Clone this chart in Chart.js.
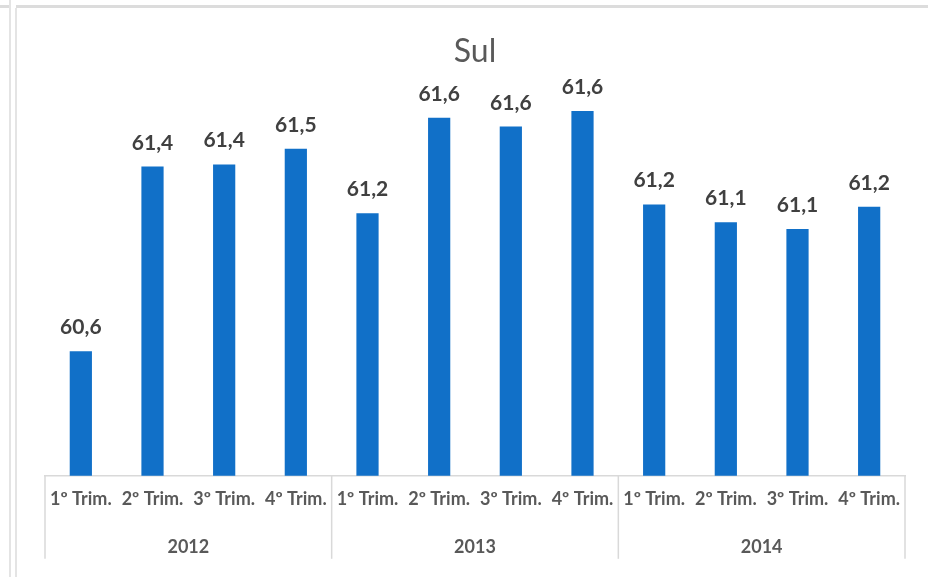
<!DOCTYPE html>
<html>
<head>
<meta charset="utf-8">
<script src="https://cdn.jsdelivr.net/npm/chart.js@4"></script>
<style>
  html, body { margin: 0; padding: 0; background: #ffffff; }
  #wrap { position: relative; width: 928px; height: 577px; overflow: hidden; }
  canvas { position: absolute; left: 0; top: 0; }
  .fr { position: absolute; background: #dcdcdc; }
</style>
</head>
<body>
<div id="wrap">
  <canvas id="c" width="928" height="577"></canvas>
  <div class="fr" style="left:0;top:5px;width:9px;height:3px;"></div>
  <div class="fr" style="left:16px;top:5px;width:912px;height:3px;"></div>
  <div class="fr" style="left:9px;top:0;width:2px;height:577px;background:#e4e4e4;"></div>
  <div class="fr" style="left:15px;top:8px;width:2px;height:569px;background:#e4e4e4;"></div>
</div>
<script>
const quarters = ['1º Trim.', '2º Trim.', '3º Trim.', '4º Trim.',
                  '1º Trim.', '2º Trim.', '3º Trim.', '4º Trim.',
                  '1º Trim.', '2º Trim.', '3º Trim.', '4º Trim.'];
const years = ['2012', '2013', '2014'];
const values = [60.56, 61.39, 61.40, 61.47, 61.18, 61.61, 61.57, 61.64, 61.22, 61.14, 61.11, 61.21];
const titleText = 'Sul';

const FONT = 'Lato, "DejaVu Sans", sans-serif';

const dataLabels = {
  id: 'dataLabels',
  afterDatasetsDraw(chart) {
    const ctx = chart.ctx;
    const meta = chart.getDatasetMeta(0);
    ctx.save();
    ctx.font = 'bold 21px ' + FONT;
    ctx.fillStyle = '#404040';
    ctx.textAlign = 'center';
    ctx.textBaseline = 'alphabetic';
    meta.data.forEach((bar, i) => {
      const txt = values[i].toFixed(1).replace('.', ',');
      ctx.fillText(txt, bar.x, bar.y - 17);
    });
    ctx.restore();
  }
};

// group separators for the two-level category axis
const separators = {
  id: 'separators',
  afterDraw(chart) {
    const ctx = chart.ctx;
    const x2 = chart.scales.x2;
    const top = chart.chartArea.bottom;
    const bottom = top + 83;
    const n = x2.ticks.length;
    const xs = [x2.left];
    for (let i = 1; i < n; i++) {
      xs.push((x2.getPixelForTick(i - 1) + x2.getPixelForTick(i)) / 2);
    }
    xs.push(x2.right);
    ctx.save();
    ctx.strokeStyle = '#d9d9d9';
    ctx.lineWidth = 1.5;
    xs.forEach(x => {
      ctx.beginPath();
      ctx.moveTo(x, top);
      ctx.lineTo(x, bottom);
      ctx.stroke();
    });
    ctx.restore();
  }
};

new Chart(document.getElementById('c'), {
  type: 'bar',
  data: {
    labels: quarters,
    datasets: [{
      data: values,
      backgroundColor: '#1170c8',
      borderWidth: 0,
      categoryPercentage: 1.0,
      barPercentage: 0.31,
      xAxisID: 'x',
      yAxisID: 'y'
    }]
  },
  options: {
    responsive: false,
    animation: false,
    events: [],
    layout: { padding: { left: 45, right: 23, top: 0, bottom: 6 } },
    plugins: {
      legend: { display: false },
      tooltip: { enabled: false },
      title: {
        display: true,
        text: titleText,
        color: '#595959',
        font: { family: FONT, size: 32, weight: 'normal' },
        padding: { top: 32, bottom: 5 }
      }
    },
    scales: {
      y: {
        display: false,
        min: 60,
        max: 61.8
      },
      x: {
        position: 'bottom',
        offset: true,
        grid: { display: false, drawTicks: false },
        border: { display: true, color: '#d9d9d9', width: 1.5 },
        ticks: {
          autoSkip: false,
          maxRotation: 0,
          minRotation: 0,
          padding: 12.5,
          color: '#595959',
          font: { family: FONT, size: 18, weight: 'bold' }
        }
      },
      x2: {
        type: 'category',
        labels: years,
        position: 'bottom',
        offset: true,
        grid: { display: false, drawTicks: false },
        border: { display: false },
        ticks: {
          autoSkip: false,
          maxRotation: 0,
          minRotation: 0,
          padding: 13.5,
          color: '#595959',
          font: { family: FONT, size: 18, weight: 'bold' }
        }
      }
    }
  },
  plugins: [dataLabels, separators]
});
</script>
</body>
</html>
